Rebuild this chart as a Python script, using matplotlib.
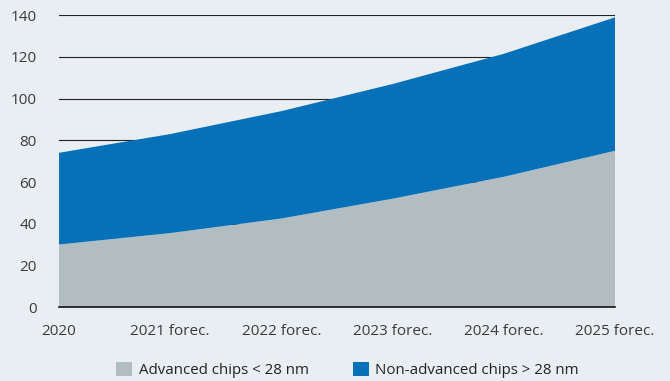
import matplotlib
matplotlib.use("Agg")
import matplotlib.pyplot as plt
from matplotlib.patches import Patch

years = ["2020", "2021 forec.", "2022 forec.", "2023 forec.", "2024 forec.", "2025 forec."]
advanced = [30, 35.5, 42.5, 52, 62.5, 75]
non_advanced = [44, 47.5, 51.5, 55, 59, 64]
yticks = [0, 20, 40, 60, 80, 100, 120, 140]

bg = "#e9eef2"
gray = "#b1bdc1"
blue = "#0671b8"

plt.rcParams['font.family'] = ['Open Sans', 'DejaVu Sans']

fig = plt.figure(figsize=(6.7, 3.81), dpi=100)
fig.patch.set_facecolor(bg)
ax = fig.add_axes([0.088, 0.194, 0.830, 0.766])
ax.set_facecolor(bg)

x = list(range(len(years)))
ax.stackplot(x, advanced, non_advanced, colors=[gray, blue], linewidth=0, zorder=2)

ax.set_xlim(0, len(years) - 1)
ax.set_ylim(0, 140)
ax.set_yticks(yticks)
ax.set_xticks(x)
ax.set_xticklabels(years)
ax.grid(axis='y', color='#222222', linewidth=0.8, zorder=1)
ax.set_axisbelow(True)
for s in ['top', 'right', 'left']:
    ax.spines[s].set_visible(False)
ax.spines['bottom'].set_color('#111111')
ax.spines['bottom'].set_linewidth(1.2)
ax.spines['bottom'].set_zorder(3)
ax.tick_params(axis='y', length=0, pad=16, labelsize=11, labelcolor='#3a3a3a')
ax.tick_params(axis='x', length=0, pad=12, labelsize=11, labelcolor='#3a3a3a')

handles = [Patch(facecolor=gray, label='Advanced chips < 28 nm'),
           Patch(facecolor=blue, label='Non-advanced chips > 28 nm')]
fig.legend(handles=handles, loc='center', bbox_to_anchor=(0.519, 0.029), ncol=2,
           frameon=False, fontsize=10.8, handlelength=1.07, handleheight=1.07,
           columnspacing=2.9, handletextpad=0.45, labelcolor='#222222')

fig.savefig("out.png", dpi=100, facecolor=bg)
